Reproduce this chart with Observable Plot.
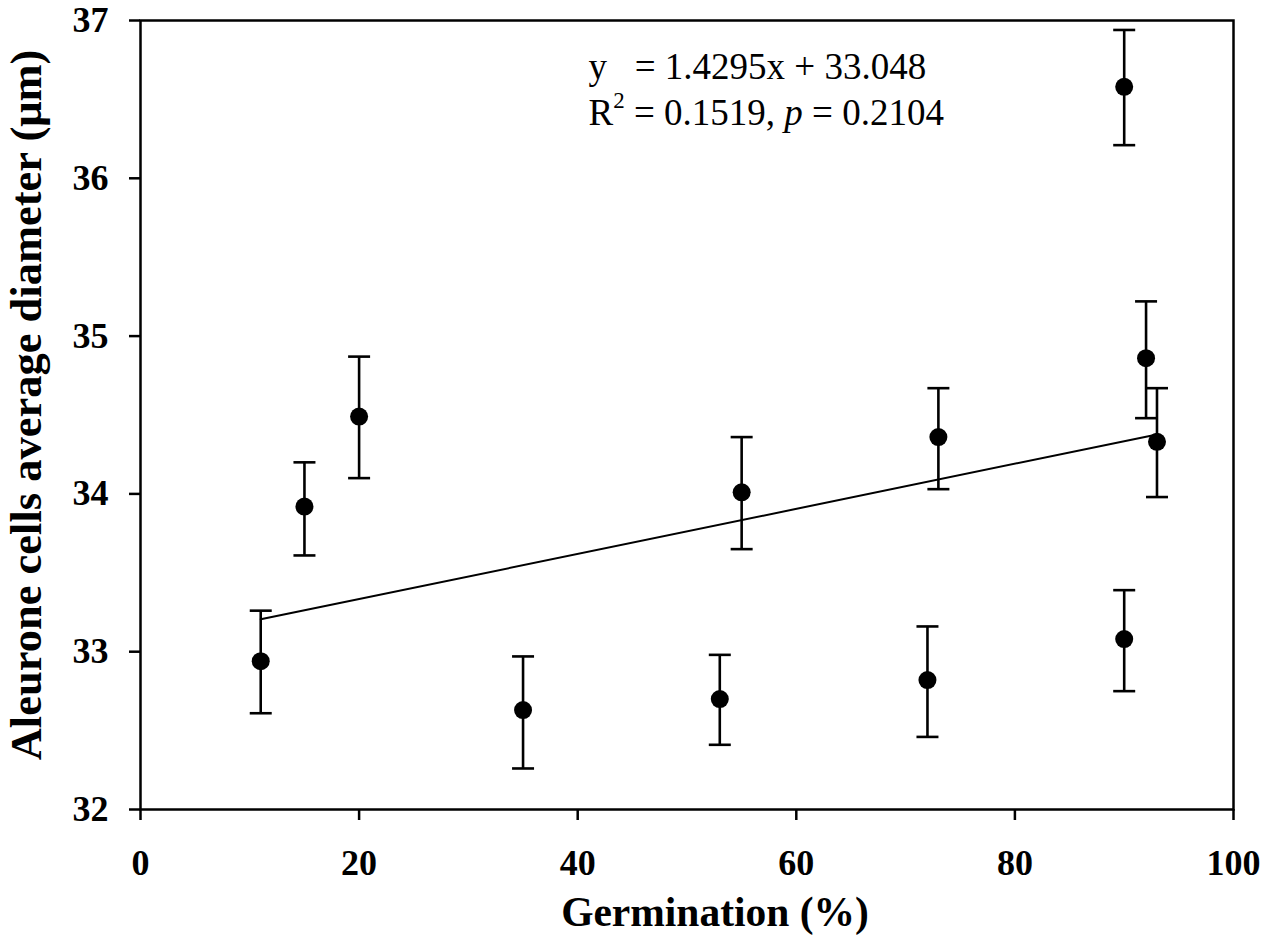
<!DOCTYPE html>
<html><head><meta charset="utf-8">
<script src="https://cdn.jsdelivr.net/npm/d3@7"></script>
<script src="https://cdn.jsdelivr.net/npm/@observablehq/plot@0.6"></script>
<style>
html,body{margin:0;padding:0;background:#fff;}
</style>
</head><body><div id="chart"></div>
<script>
// ---- data ----
const germination = [11, 15, 20, 35, 53, 55, 72, 73, 90, 90, 92, 93];
const diameter    = [32.94, 33.92, 34.49, 32.63, 32.70, 34.01, 32.82, 34.36, 36.58, 33.08, 34.86, 34.33];
const errLow      = [32.61, 33.61, 34.10, 32.26, 32.41, 33.65, 32.46, 34.03, 36.21, 32.75, 34.48, 33.98];
const errHigh     = [33.26, 34.20, 34.87, 32.97, 32.98, 34.36, 33.16, 34.67, 36.94, 33.39, 35.22, 34.67];
const fitX = [11, 93];
const fitY = [33.205, 34.377];
const xTicks = [0, 20, 40, 60, 80, 100];
const yTicks = [32, 33, 34, 35, 36, 37];
const eqLine1 = "y\u00a0\u00a0\u00a0= 1.4295x + 33.048";
const eqLine2 = "R² = 0.1519, p = 0.2104";
const xTitle = "Germination (%)";
const yTitle = "Aleurone cells average diameter (μm)";

const rows = germination.map((g, i) => ({x: g, y: diameter[i], lo: errLow[i], hi: errHigh[i]}));
const fit = fitX.map((x, i) => ({x, y: fitY[i]}));

const capSymbol = {
  draw(ctx, size) {
    const r = Math.sqrt(size / Math.PI);
    ctx.moveTo(-r, 0);
    ctx.lineTo(r, 0);
  }
};

const font = "'Liberation Serif', 'Times New Roman', serif";

const chart = Plot.plot({
  width: 1267,
  height: 940,
  marginLeft: 140,
  marginRight: 34,
  marginTop: 20,
  marginBottom: 131,
  style: {fontFamily: font, background: "#fff", color: "#000"},
  x: {domain: [0, 100]},
  y: {domain: [32, 37]},
  marks: [
    Plot.frame({stroke: "#000", strokeWidth: 2.5}),
    Plot.line(fit, {x: "x", y: "y", stroke: "#000", strokeWidth: 2}),
    Plot.ruleX(rows, {x: "x", y1: "lo", y2: "hi", stroke: "#000", strokeWidth: 2.6}),
    Plot.dot(rows, {x: "x", y: "lo", symbol: capSymbol, r: 11, stroke: "#000", strokeWidth: 2.6, fill: "none"}),
    Plot.dot(rows, {x: "x", y: "hi", symbol: capSymbol, r: 11, stroke: "#000", strokeWidth: 2.6, fill: "none"}),
    Plot.dot(rows, {x: "x", y: "y", r: 9, fill: "#000", stroke: "none"}),
    Plot.axisX({ticks: xTicks, tickFormat: d => String(d), tickSize: 11, tickPadding: 29, strokeWidth: 2.5,
      fontSize: 36, fontWeight: "bold", label: null}),
    Plot.axisY({ticks: yTicks, tickFormat: d => String(d), tickSize: 11, tickPadding: 21, strokeWidth: 2.5,
      fontSize: 36, fontWeight: "bold", label: null}),
    Plot.text([xTitle], {frameAnchor: "bottom", textAnchor: "middle", dx: 28, dy: 103, lineAnchor: "middle",
      fontSize: 41.5, fontWeight: "bold", fill: "#000"}),
    Plot.text([yTitle], {frameAnchor: "left", textAnchor: "middle", rotate: -90, dx: -114, dy: -10, lineAnchor: "middle",
      fontSize: 44.5, fontWeight: "bold", fill: "#000"}),
    Plot.text([eqLine1], {frameAnchor: "top-left", textAnchor: "start", lineAnchor: "middle", dx: 448, dy: 47,
      fontSize: 37, fill: "#000"}),
    Plot.text([eqLine2], {frameAnchor: "top-left", textAnchor: "start", lineAnchor: "middle", dx: 448, dy: 93,
      fontSize: 37, fill: "#000"})
  ]
});

// rich formatting for the R² line: superscript 2 and italic p
chart.querySelectorAll("text").forEach(t => {
  const s = t.textContent;
  if (!s.includes("²")) return;
  t.textContent = "";
  const ns = "http://www.w3.org/2000/svg";
  const tokens = s.split(/(²|\bp\b)/).filter(x => x !== "");
  let raised = false;
  tokens.forEach(tok => {
    const ts = document.createElementNS(ns, "tspan");
    if (tok === "²") {
      ts.textContent = "2";
      ts.setAttribute("font-size", "0.62em");
      ts.setAttribute("dy", "-0.75em");
      raised = true;
    } else {
      ts.textContent = tok;
      if (raised) { ts.setAttribute("dy", "0.465em"); raised = false; }
      if (tok === "p") ts.setAttribute("font-style", "italic");
    }
    t.appendChild(ts);
  });
  t.setAttribute("style", "white-space: pre");
});

document.getElementById("chart").appendChild(chart);
</script>
</body></html>
